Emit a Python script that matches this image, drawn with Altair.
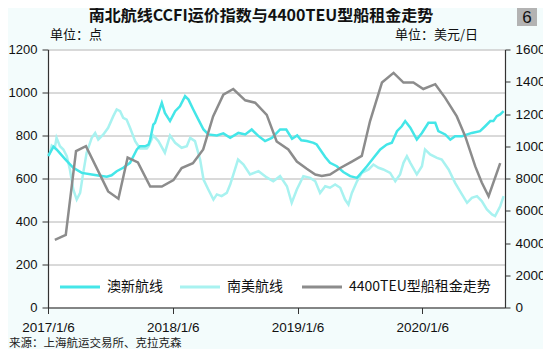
import altair as alt
import pandas as pd

START = "2017-01-06"
END = "2020-09-04"

# 澳新航线 (CCFI, left axis) — days after 2017-01-06, index value
aus_days = [1, 16, 25, 50, 74, 99, 128, 147, 172, 186, 201, 220, 240, 260, 269,
            284, 294, 299, 308, 313, 323, 333, 342, 357, 372, 386, 401, 411, 425, 440,
            455, 469, 494, 513, 533, 557, 577, 596, 616, 635, 655, 679, 697, 714, 729,
            741, 757, 777, 786, 796, 811, 825, 845, 864, 884, 904, 913, 933, 952, 972,
            991, 1006, 1021, 1035, 1045, 1060, 1079, 1094, 1113, 1133, 1142, 1162, 1177, 1191, 1211,
            1240, 1264, 1279, 1294, 1303, 1313, 1323, 1333]
aus_vals = [705, 748, 735, 690, 650, 626, 619, 614, 608, 615, 634, 650, 673, 735, 750,
            750, 758, 781, 851, 859, 905, 952, 905, 867, 913, 936, 983, 967, 921, 874,
            828, 805, 800, 810, 789, 812, 805, 828, 797, 774, 789, 828, 828, 785, 800,
            778, 774, 766, 758, 735, 700, 673, 657, 630, 611, 603, 620, 657, 695, 735,
            758, 766, 820, 843, 867, 836, 781, 812, 859, 859, 820, 805, 781, 797, 797,
            812, 820, 843, 867, 867, 890, 898, 913]

# 南美航线 (CCFI, left axis)
sam_days = [1, 6, 11, 20, 25, 35, 45, 55, 64, 74, 84, 94, 103, 113, 128,
            138, 147, 162, 176, 191, 201, 211, 220, 230, 240, 255, 269, 289, 294, 308,
            323, 342, 357, 372, 391, 406, 416, 430, 445, 455, 469, 484, 494, 508, 523,
            533, 556, 572, 591, 616, 640, 659, 679, 699, 713, 728, 747, 767, 782, 796,
            811, 825, 840, 855, 869, 879, 889, 904, 918, 938, 952, 967, 981, 1001, 1016,
            1030, 1040, 1050, 1060, 1079, 1094, 1103, 1118, 1138, 1152, 1172, 1191, 1211, 1226, 1240,
            1255, 1269, 1284, 1299, 1308, 1323, 1333]
sam_vals = [704, 720, 753, 743, 789, 750, 735, 704, 642, 549, 502, 533, 626, 720, 789,
            812, 781, 805, 836, 890, 921, 913, 882, 874, 836, 774, 740, 740, 750, 800,
            774, 720, 800, 766, 743, 750, 789, 774, 688, 595, 549, 502, 526, 518, 533,
            572, 688, 665, 619, 634, 605, 587, 611, 564, 487, 549, 611, 603, 587, 533,
            564, 557, 572, 557, 502, 479, 533, 587, 626, 642, 665, 650, 642, 626, 587,
            619, 673, 704, 673, 619, 657, 735, 712, 696, 688, 642, 580, 526, 487, 510,
            518, 495, 456, 433, 425, 471, 518]

# 4400TEU型船租金 (USD/day, right axis)
rent_days = [20, 52, 82, 111, 176, 206, 233, 263, 299, 333, 367, 391, 424, 454, 483,
             513, 542, 577, 606, 640, 669, 703, 728, 757, 782, 801, 825, 855, 889, 918,
             942, 977, 1011, 1040, 1069, 1098, 1133, 1162, 1196, 1221, 1250, 1269, 1289, 1323]
rent_vals = [4200, 4500, 9700, 10000, 7200, 6750, 9300, 9000, 7500, 7500, 7900, 8650, 8950, 9800, 11850,
             13200, 13550, 12850, 12700, 11950, 10300, 9800, 9050, 8600, 8250, 8150, 8250, 8650, 9050, 9400,
             11550, 13950, 14550, 13950, 13950, 13550, 13850, 13000, 11850, 10600, 8750, 7750, 6900, 8950]

series_names = ["澳新航线", "南美航线", "4400TEU型船租金走势"]
series_colors = ["#44e6e8", "#a8f2f0", "#8c8c8c"]
x_tick_dates = ["2017-01-06", "2018-01-06", "2019-01-06", "2020-01-06"]
left_ticks = [0, 200, 400, 600, 800, 1000, 1200]
right_ticks = [0, 2000, 4000, 6000, 8000, 10000, 12000, 14000, 16000]

title_text = "南北航线CCFI运价指数与4400TEU型船租金走势"
unit_left = "单位：点"
unit_right = "单位：美元/日"
source_text = "来源：上海航运交易所、克拉克森"
badge_text = "6"

# layout (pixels inside the plot area) for the in-plot legend
legend_left = [12, 132, 254]
legend_row_y = 237.5
legend_line_len = 40
legend_gap = 7

CJK = "Noto Sans CJK SC"
LAT = "Liberation Sans"


def to_ms(day_offsets):
    base = pd.Timestamp(START)
    return [int((base + pd.Timedelta(days=d)).timestamp() * 1000) for d in day_offsets]


def date_ms(s):
    return int(pd.Timestamp(s).timestamp() * 1000)


ccfi = pd.concat([
    pd.DataFrame({"t": to_ms(sam_days), "value": sam_vals, "series": series_names[1]}),
    pd.DataFrame({"t": to_ms(aus_days), "value": aus_vals, "series": series_names[0]}),
], ignore_index=True)
rent = pd.DataFrame({"t": to_ms(rent_days), "value": rent_vals, "series": series_names[2]})

W, H = 457, 258

x_scale = alt.Scale(type="utc", domain=[date_ms(START), date_ms(END)])
x_axis = alt.Axis(values=[date_ms(d) for d in x_tick_dates], format="%Y/%-m/%-d",
                  orient="bottom", title=None, grid=False, tickSize=6, labelPadding=7,
                  labelFlush=False, labelOverlap=False, labelBound=False)

color_enc = alt.Color(
    "series:N",
    scale=alt.Scale(domain=series_names, range=series_colors),
    legend=None,
)

ccfi_layer = alt.Chart(ccfi).mark_line(strokeWidth=2.5).encode(
    x=alt.X("t:T", scale=x_scale, axis=x_axis),
    y=alt.Y("value:Q", scale=alt.Scale(domain=[0, 1200]),
            axis=alt.Axis(orient="left", values=left_ticks, format="d", title=None, grid=True,
                          gridColor="#b4b4b4", gridWidth=1, tickSize=6, labelPadding=5,
                          labelFontSize=13)),
    color=color_enc,
    detail="series:N",
)

rent_layer = alt.Chart(rent).mark_line(strokeWidth=2.5).encode(
    x=alt.X("t:T", scale=x_scale, axis=None),
    y=alt.Y("value:Q", scale=alt.Scale(domain=[0, 16000]),
            axis=alt.Axis(orient="right", values=right_ticks, format="d", title=None, grid=False,
                          tickSize=5, labelPadding=5)),
    color=color_enc,
)

legend_df = pd.DataFrame({
    "series": series_names,
    "x0": legend_left,
    "x1": [v + legend_line_len for v in legend_left],
    "xt": [v + legend_line_len + legend_gap for v in legend_left],
    "y": [legend_row_y] * len(series_names),
})

legend_lines = alt.Chart(legend_df).mark_rule(strokeWidth=3).encode(
    x=alt.X("x0:Q", scale=None, axis=None),
    x2="x1:Q",
    y=alt.Y("y:Q", scale=None, axis=None),
    color=color_enc,
)
legend_text = alt.Chart(legend_df).mark_text(
    align="left", baseline="middle", font=CJK, fontSize=14, color="#111"
).encode(
    x=alt.X("xt:Q", scale=None, axis=None),
    y=alt.Y("y:Q", scale=None, axis=None),
    text="series:N",
)

one = pd.DataFrame({"k": [0]})


def label(text, x, y, size, align="left", weight="normal", font=CJK, color="#111"):
    return alt.Chart(one).mark_text(
        text=text, align=align, baseline="middle", fontSize=size,
        fontWeight=weight, font=font, color=color
    ).encode(x=alt.value(x), y=alt.value(y))


badge_box = alt.Chart(one).mark_rect(color="#b3b3b3").encode(
    x=alt.value(469), x2=alt.value(489), y=alt.value(-41.5), y2=alt.value(-23.5)
)

chart = alt.layer(
    ccfi_layer,
    rent_layer,
    legend_lines,
    legend_text,
    label(title_text, 213, -34, 16, align="center", weight="bold"),
    badge_box,
    label(badge_text, 479, -32, 17, align="center", font=LAT),
    label(unit_left, 2, -15, 13),
    label(unit_right, 430, -15, 13, align="right"),
    label(source_text, -39, 294, 11.5, color="#222"),
).resolve_scale(
    y="independent", x="independent"
).resolve_axis(
    x="independent", y="independent"
).properties(
    width=W, height=H,
    autosize=alt.AutoSizeParams(type="none"),
    padding={"left": 40, "top": 41.5, "right": 38, "bottom": 41.5},
    background="#f3fcfc",
).configure_view(
    stroke=None, fill="white"
).configure_axis(
    labelFont=LAT, labelFontSize=13.5, labelColor="#111",
    domainColor="#333", tickColor="#333", domainWidth=1.2,
)

chart.save("out.html", embed_options={"renderer": "svg", "actions": False})
